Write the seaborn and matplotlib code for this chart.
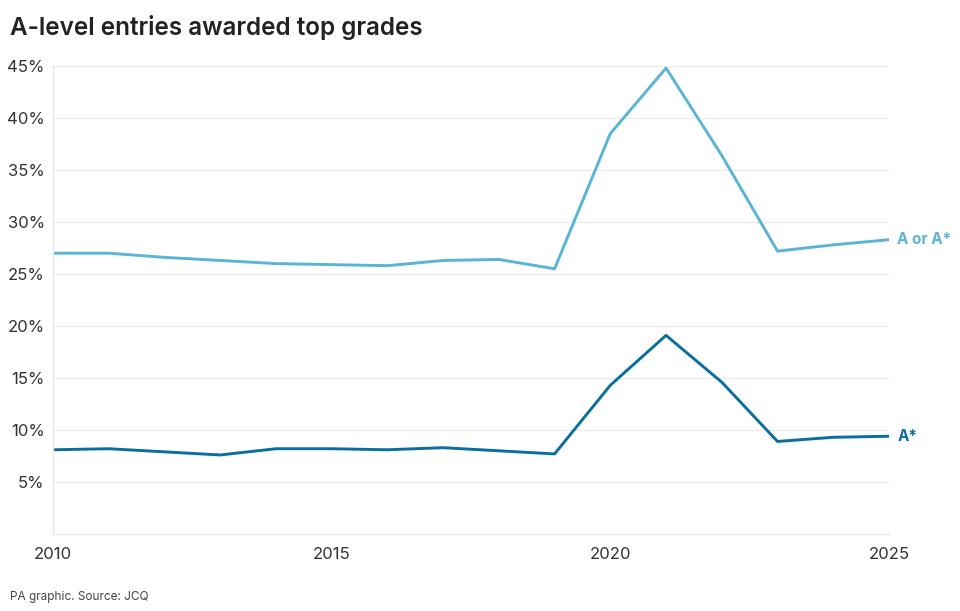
import pandas as pd
import seaborn as sns
import matplotlib.pyplot as plt

# Data
years = list(range(2010, 2026))
a_or_astar = [27.0, 27.0, 26.6, 26.3, 26.0, 25.9, 25.8, 26.3, 26.4, 25.5,
              38.5, 44.8, 36.4, 27.2, 27.8, 28.3]
astar = [8.1, 8.2, 7.9, 7.6, 8.2, 8.2, 8.1, 8.3, 8.0, 7.7,
         14.3, 19.1, 14.6, 8.9, 9.3, 9.4]
series_names = ["A or A*", "A*"]
colors = ["#5ab4d6", "#0b6e9e"]

df = pd.DataFrame({"year": years * 2,
                   "pct": a_or_astar + astar,
                   "grade": [series_names[0]] * len(years) + [series_names[1]] * len(years)})

sns.set_style("white")
plt.rcParams['font.family'] = ['Inter', 'DejaVu Sans']

fig = plt.figure(figsize=(9.6, 6.11), dpi=100)
ax = fig.add_axes([0.0552, 0.126, 0.8708, 0.766])

sns.lineplot(data=df, x="year", y="pct", hue="grade", palette=colors,
             linewidth=2.1, legend=False, ax=ax)

ax.set_xlim(2010, 2025)
ax.set_ylim(0, 45)
ax.set_xticks([2010, 2015, 2020, 2025])
ax.set_yticks(range(5, 50, 5))
ax.set_yticklabels([f"{v}%" for v in range(5, 50, 5)])
ax.tick_params(axis='both', length=0, labelsize=12, colors="#333333")
ax.tick_params(axis='x', pad=9)
ax.tick_params(axis='y', pad=6)
ax.grid(axis='y', color="#ebebeb", linewidth=1)
ax.set_xlabel("")
ax.set_ylabel("")
for s in ["top", "right"]:
    ax.spines[s].set_visible(False)
for s in ["left", "bottom"]:
    ax.spines[s].set_color("#e6e6e6")
    ax.spines[s].set_linewidth(1)

# Line end labels
ax.text(2025.15, a_or_astar[-1], series_names[0], color=colors[0],
        fontsize=11, fontweight='bold', va='center', ha='left', clip_on=False)
ax.text(2025.15, astar[-1], series_names[1], color=colors[1],
        fontsize=11, fontweight='bold', va='center', ha='left', clip_on=False)

fig.text(0.0104, 0.955, "A-level entries awarded top grades", fontsize=17.5,
         fontweight='semibold', color="#222222", va='center', ha='left')
fig.text(0.0104, 0.023, "PA graphic. Source: JCQ", fontsize=8.5,
         color="#444444", va='center', ha='left')

fig.savefig("out.png", dpi=100, facecolor="white")
